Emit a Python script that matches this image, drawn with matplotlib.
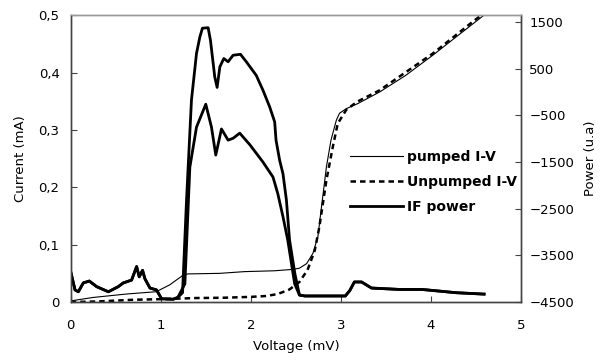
import matplotlib
matplotlib.use("Agg")
import matplotlib.pyplot as plt
from matplotlib.ticker import FuncFormatter

# pumped I-V (thin line), left axis, mA
PUMPED_V = [0, 0.25, 0.62, 0.95, 1.10, 1.25, 1.30, 1.655, 1.93, 2.265, 2.47, 2.54,
            2.62, 2.69, 2.745, 2.78, 2.84, 2.89, 2.95, 2.985, 3.06, 3.19, 3.43,
            3.72, 4.02, 4.28, 4.59]
PUMPED_I = [0.002, 0.008, 0.014, 0.018, 0.030, 0.047, 0.049, 0.050, 0.053, 0.0545,
            0.057, 0.059, 0.067, 0.085, 0.114, 0.160, 0.236, 0.282, 0.317, 0.329,
            0.337, 0.346, 0.366, 0.395, 0.430, 0.462, 0.500]

# unpumped I-V (dashed), left axis, mA
UNPUMPED_V = [0, 0.3, 0.7, 1.0, 1.4, 1.7, 2.0, 2.17, 2.3, 2.43, 2.54, 2.63, 2.71,
              2.76, 2.84, 2.91, 2.965, 3.06, 3.18, 3.43, 4.02, 4.46, 4.56]
UNPUMPED_I = [0.0, 0.001, 0.004, 0.005, 0.007, 0.0075, 0.009, 0.0105, 0.014, 0.022,
              0.035, 0.056, 0.090, 0.130, 0.213, 0.270, 0.311, 0.335, 0.349, 0.369,
              0.433, 0.488, 0.500]

# IF power, right axis (u.a) - two traces sharing the low and high bias parts
IF_LOW_V = [0, 0.048, 0.085, 0.14, 0.207, 0.288, 0.418, 0.528, 0.584, 0.676, 0.732,
            0.761, 0.798, 0.824, 0.88, 0.953, 1.009, 1.138, 1.19]
IF_LOW_P = [-3850, -4240, -4280, -4090, -4050, -4170, -4280, -4170, -4090, -4030,
            -3740, -3960, -3820, -4000, -4200, -4240, -4430, -4440, -4400]

IF_A_V = [1.242, 1.286, 1.341, 1.397, 1.434, 1.463, 1.526, 1.552, 1.60, 1.626, 1.656,
          1.70, 1.748, 1.803, 1.885, 1.95, 2.06, 2.135, 2.21, 2.265, 2.28, 2.32,
          2.357, 2.395, 2.43, 2.49, 2.54]
IF_A_P = [-4300, -2320, -170, 830, 1180, 1370, 1380, 1110, 320, 100, 540, 720, 650,
          790, 810, 650, 360, 40, -320, -640, -1030, -1460, -1750, -2310, -3170,
          -3900, -4350]

IF_B_V = [1.268, 1.323, 1.397, 1.50, 1.563, 1.611, 1.674, 1.748, 1.803, 1.877, 1.99,
          2.135, 2.246, 2.30, 2.357, 2.41, 2.487, 2.54]
IF_B_P = [-4110, -1610, -750, -260, -750, -1350, -790, -1030, -990, -880, -1130,
          -1500, -1820, -2180, -2670, -3170, -4110, -4350]

IF_HIGH_V = [2.6, 3.05, 3.1, 3.15, 3.23, 3.34, 3.65, 3.9, 4.28, 4.59]
IF_HIGH_P = [-4370, -4370, -4250, -4070, -4070, -4200, -4230, -4230, -4300, -4330]

LEFT_TICKS = [0, 0.1, 0.2, 0.3, 0.4, 0.5]
RIGHT_TICKS = [-4500, -3500, -2500, -1500, -500, 500, 1500]
X_TICKS = [0, 1, 2, 3, 4, 5]

plt.rcParams["font.family"] = ["DejaVu Sans"]
plt.rcParams["font.size"] = 9.5

fig = plt.figure(figsize=(6.11, 3.6), dpi=100)
ax = fig.add_axes([0.1157, 0.161, 0.737, 0.797])
ax2 = ax.twinx()

thin, = ax.plot(PUMPED_V, PUMPED_I, color="black", lw=0.8)
dash, = ax.plot(UNPUMPED_V, UNPUMPED_I, color="black", lw=1.8, dashes=(2.2, 1.6))

if_a_v = IF_LOW_V + IF_A_V + IF_HIGH_V
if_a_p = IF_LOW_P + IF_A_P + IF_HIGH_P
if_b_v = IF_LOW_V + IF_B_V + IF_HIGH_V
if_b_p = IF_LOW_P + IF_B_P + IF_HIGH_P
thick, = ax2.plot(if_a_v, if_a_p, color="black", lw=2.0)
ax2.plot(if_b_v, if_b_p, color="black", lw=2.0)

ax.set_xlim(0, 5)
ax.set_ylim(0, 0.5)
ax2.set_ylim(-4500, 1650)
ax.set_xticks(X_TICKS)
ax.set_yticks(LEFT_TICKS)
ax2.set_yticks(RIGHT_TICKS)
ax.yaxis.set_major_formatter(FuncFormatter(
    lambda v, p: "0" if v == 0 else f"{v:.1f}".replace(".", ",")))

for a in (ax, ax2):
    a.tick_params(direction="in", length=4, width=0.8, color="#444444")
    for name, sp in a.spines.items():
        sp.set_color("#999999" if name == "top" else "#444444")
        sp.set_linewidth(1.0)
ax.tick_params(axis="y", pad=8)
ax.tick_params(axis="x", pad=12)
ax2.tick_params(axis="y", pad=6)

ax.set_xlabel("Voltage (mV)")
ax.set_ylabel("Current (mA)")
ax2.set_ylabel("Power (u.a)")
ax.xaxis.set_label_coords(0.5, -0.132)
ax.yaxis.set_label_coords(-0.097, 0.5)
ax2.yaxis.set_label_coords(1.140, 0.5)

leg = ax2.legend([thin, dash, thick], ["pumped I-V", "Unpumped I-V", "IF power"],
                 loc="upper left", bbox_to_anchor=(0.62, 0.53), frameon=False,
                 borderpad=0, borderaxespad=0, handlelength=3.8, handletextpad=0.3,
                 labelspacing=0.8, prop={"weight": "bold", "size": 10})

fig.savefig("out.png", dpi=100)
